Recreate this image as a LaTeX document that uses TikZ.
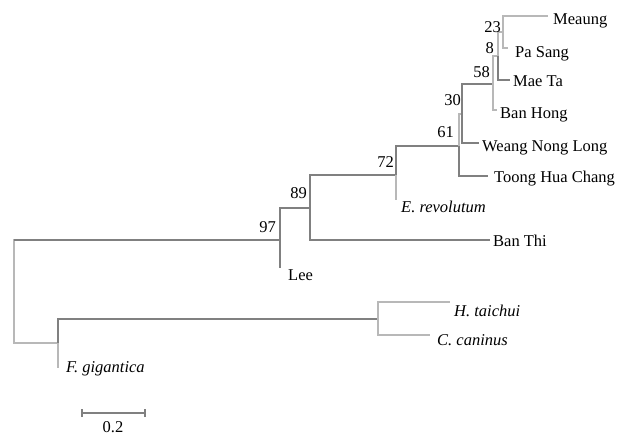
\documentclass[tikz,border=0pt]{standalone}
\usepackage{fontspec}
\setmainfont{Liberation Serif}
\begin{document}
\begin{tikzpicture}[x=1pt,y=-1pt,
  br/.style={draw=black!50,line width=1.3pt},
  lbr/.style={draw=black!28,line width=1.3pt},
  lab/.style={anchor=base west,inner sep=0pt,font=\fontsize{16.5}{19}\selectfont},
  boot/.style={anchor=east,inner sep=0pt,font=\fontsize{16.5}{19}\selectfont}]
\useasboundingbox (0,0) rectangle (623,436);
% internal nodes
\coordinate (root) at (14,291);
\coordinate (n97) at (280,240);
\coordinate (n89) at (310,208);
\coordinate (n72) at (396,175);
\coordinate (n61) at (459,146);
\coordinate (n30) at (462,114);
\coordinate (n58) at (493,84);
\coordinate (n8) at (498,56);
\coordinate (n23) at (503,32);
\coordinate (nout) at (58,343);
\coordinate (nHC) at (378,319);
% leaves
\coordinate (Meaung) at (548,16);
\coordinate (PaSang) at (508,48);
\coordinate (MaeTa) at (510,80);
\coordinate (BanHong) at (497,110);
\coordinate (WNL) at (479,143);
\coordinate (THC) at (488,176);
\coordinate (Erev) at (396,200);
\coordinate (BanThi) at (490,240);
\coordinate (Lee) at (280,268);
\coordinate (Htai) at (450,302);
\coordinate (Ccan) at (430,335);
\coordinate (Fgig) at (58,368);
% branches
\draw[lbr] (root) |- (n97);
\draw[br] (root |- n97) -- (n97);
\draw[lbr] (root) |- (nout);
\draw[br] (n97) |- (n89);
\draw[br] (n97) |- (Lee);
\draw[br] (n89) |- (n72);
\draw[br] (n89) |- (BanThi);
\draw[br] (n72) |- (n61);
\draw[lbr] (n72) |- (Erev);
\draw[lbr] (n61) |- (n30);
\draw[br] (n61) |- (THC);
\draw[br] (n30) |- (n58);
\draw[br] (n30) |- (WNL);
\draw[lbr] (n58) |- (n8);
\draw[lbr] (n58) |- (BanHong);
\draw[lbr] (n8) |- (n23);
\draw[br] (n8) |- (MaeTa);
\draw[lbr] (n23) |- (Meaung);
\draw[lbr] (n23) |- (PaSang);
\draw[br] (nout) |- (nHC);
\draw[lbr] (nout) |- (Fgig);
\draw[lbr] (nHC) |- (Htai);
\draw[lbr] (nHC) |- (Ccan);
% leaf labels
\node[lab] (tMeaung) at (553,25) {Meaung};
\node[lab] (tPaSang) at (515,57) {Pa Sang};
\node[lab] (tMaeTa) at (513,86) {Mae Ta};
\node[lab] (tBanHong) at (500,118) {Ban Hong};
\node[lab] (tWNL) at (482,151) {Weang Nong Long};
\node[lab] (tTHC) at (494,182) {Toong Hua Chang};
\node[lab] (tErev) at (401,212) {\itshape E. revolutum};
\node[lab] (tBanThi) at (493,246) {Ban Thi};
\node[lab] (tLee) at (288,280) {Lee};
\node[lab] (tHtai) at (454,316) {\itshape H. taichui};
\node[lab] (tCcan) at (437,345) {\itshape C. caninus};
\node[lab] (tFgig) at (66,372) {\itshape F. gigantica};
% bootstrap values
\node[boot] (b23) at (501,27) {23};
\node[boot] (b8) at (494,48) {8};
\node[boot] (b58) at (490,72) {58};
\node[boot] (b30) at (461,100) {30};
\node[boot] (b61) at (454,132) {61};
\node[boot] (b72) at (394,162) {72};
\node[boot] (b89) at (307,193) {89};
\node[boot] (b97) at (276,227) {97};
% scale bar
\coordinate (sbL) at (82,413);
\coordinate (sbR) at (145,413);
\draw[br,line width=1.1pt] (sbL) -- (sbR);
\draw[br,line width=1.1pt] ([yshift=-4pt]sbL) -- ([yshift=4pt]sbL);
\draw[br,line width=1.1pt] ([yshift=-4pt]sbR) -- ([yshift=4pt]sbR);
\node[anchor=center,inner sep=0pt,font=\fontsize{16.5}{19}\selectfont] (sbT) at (113,427) {0.2};
\end{tikzpicture}
\end{document}
